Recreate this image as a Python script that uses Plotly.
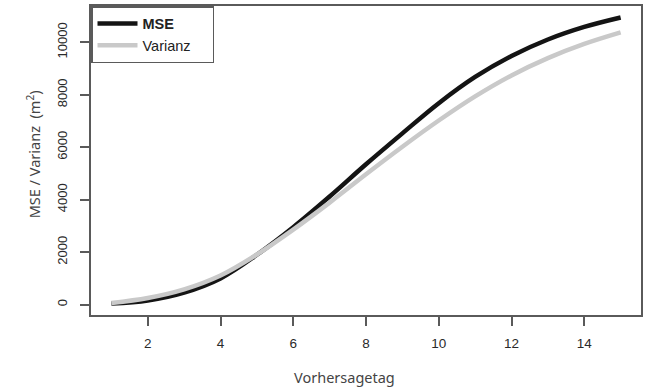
import plotly.graph_objects as go

# Forecast day vs. mean squared error and ensemble variance
tage = list(range(1, 16))
mse = [40, 160, 460, 1000, 1900, 2950, 4120, 5350, 6530, 7680, 8680, 9480, 10110, 10590, 10950]
varianz = [60, 250, 580, 1110, 1910, 2860, 3890, 4970, 6020, 7020, 7940, 8740, 9400, 9940, 10380]
x_ticks = [2, 4, 6, 8, 10, 12, 14]
y_ticks = [0, 2000, 4000, 6000, 8000, 10000]
y_tick_text = ["0", "2000", "4000", "6000", "8000", "10000"]

# R-style 4% padding on both axes
xmin, xmax = min(tage), max(tage)
xpad = 0.04 * (xmax - xmin)
ymin, ymax = min(mse + varianz), max(mse + varianz)
ypad = 0.04 * (ymax - ymin)

pad = "\u00a0" * 4  # extra room on the right side of the legend box

fig = go.Figure()
fig.add_trace(go.Scatter(x=tage, y=mse, mode="lines", name="<b>MSE</b>" + pad,
                         line=dict(color="#141414", width=4.5, shape="spline")))
fig.add_trace(go.Scatter(x=tage, y=varianz, mode="lines", name="Varianz" + pad,
                         line=dict(color="#c9c9c9", width=4.5, shape="spline")))

axis_common = dict(showgrid=False, zeroline=False, showline=True, mirror=True,
                   linecolor="#5a5a5a", linewidth=1.5, ticks="outside", ticklen=9,
                   tickwidth=1.5, tickcolor="#5a5a5a")

fig.update_xaxes(range=[xmin - xpad, xmax + xpad], tickvals=x_ticks,
                 ticklabelstandoff=6,
                 tickfont=dict(family="Liberation Sans", size=13.5, color="#2a2a2a"),
                 **axis_common)
fig.update_yaxes(range=[ymin - ypad, ymax + ypad], tickvals=y_ticks,
                 ticktext=y_tick_text, tickangle=-90, ticklabelstandoff=8,
                 tickfont=dict(family="Liberation Sans", size=13, color="#2a2a2a"),
                 **axis_common)

fig.add_annotation(text="Vorhersagetag", xref="paper", yref="paper", x=0.46, y=0,
                   yshift=-50, showarrow=False, xanchor="center", yanchor="top",
                   font=dict(family="Noto Sans", size=14.5, color="#444444"))
fig.add_annotation(text="MSE / Varianz  (m<sup>2</sup>)", xref="paper", yref="paper",
                   x=0, xshift=-58, y=0.52, textangle=-90, showarrow=False,
                   xanchor="center", yanchor="middle",
                   font=dict(family="Noto Sans", size=14.5, color="#444444"))

fig.update_layout(
    width=648, height=389,
    margin=dict(l=91, r=7, t=4, b=74),
    plot_bgcolor="white", paper_bgcolor="white",
    legend=dict(x=0, y=1, xanchor="left", yanchor="top",
                bordercolor="#5a5a5a", borderwidth=1.5, bgcolor="white",
                font=dict(family="Liberation Sans", size=14.5, color="#222222"),
                itemwidth=40, tracegroupgap=0),
)

fig.write_html("out.html")
